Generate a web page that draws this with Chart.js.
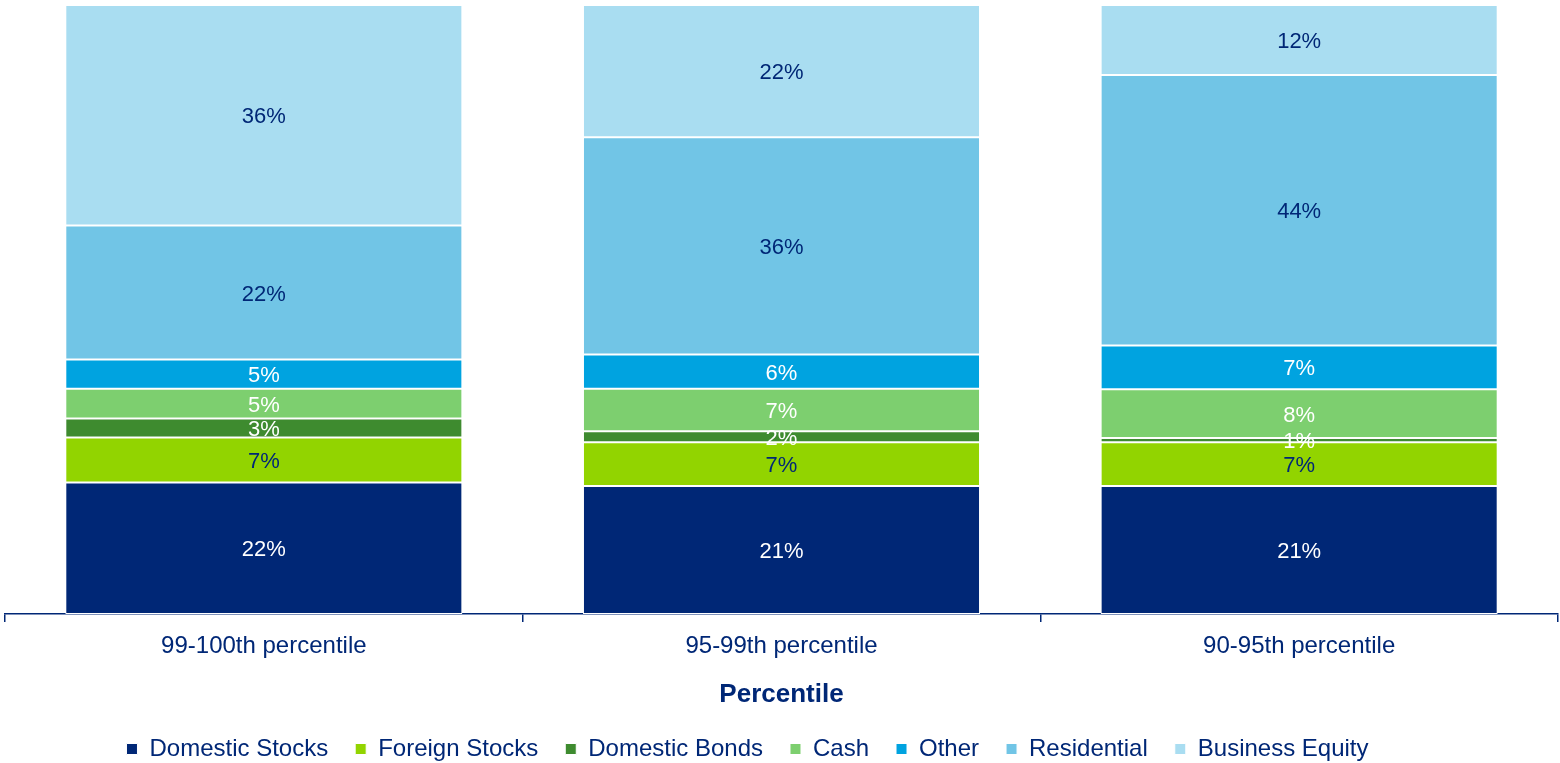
<!DOCTYPE html>
<html>
<head>
<meta charset="utf-8">
<script src="https://cdn.jsdelivr.net/npm/chart.js@4/dist/chart.umd.min.js"></script>
<style>
  html, body { margin: 0; padding: 0; background: #fff; }
  #wrap { width: 1560px; height: 763px; }
</style>
</head>
<body>
<div id="wrap"><canvas id="barChart"></canvas></div>
<script>
// categories and series (share of portfolio, %)
const percentiles = ["99-100th percentile", "95-99th percentile", "90-95th percentile"];
const domesticStocks = [21.6, 21.0, 21.0];
const foreignStocks = [7.4, 7.2, 7.2];
const domesticBonds = [3.1, 1.8, 0.7];
const cash = [4.9, 7.0, 8.0];
const other = [4.8, 5.6, 7.2];
const residential = [22.0, 35.7, 44.4];
const businessEquity = [36.2, 21.7, 11.5];

const navy = "#002776";
const font = "'Liberation Sans', Arial, sans-serif";

// value labels in the middle of each segment
const segmentLabels = {
  id: "segmentLabels",
  afterDatasetsDraw(chart) {
    const ctx = chart.ctx;
    ctx.save();
    ctx.font = "22px " + font;
    ctx.textAlign = "center";
    ctx.textBaseline = "middle";
    chart.data.datasets.forEach((ds, i) => {
      const meta = chart.getDatasetMeta(i);
      meta.data.forEach((bar, j) => {
        ctx.fillStyle = ds.labelColor;
        ctx.fillText(Math.round(ds.data[j]) + "%", bar.x, (bar.y + bar.base) / 2 + 2);
      });
    });
    ctx.restore();
  }
};

// legend sits a bit lower and left of centre in the original
const legendNudge = {
  id: "legendNudge",
  beforeInit(chart) {
    const fit = chart.legend.fit;
    chart.legend.fit = function () {
      fit.call(this);
      this.height -= 8;
    };
  },
  afterLayout(chart) {
    chart.legend.left -= 34;
    chart.legend.right -= 34;
  }
};

function series(label, data, color, labelColor) {
  return {
    label: label,
    data: data,
    backgroundColor: color,
    borderColor: "#ffffff",
    borderWidth: 1,
    borderSkipped: false,
    labelColor: labelColor,
    barPercentage: 0.767,
    categoryPercentage: 1
  };
}

new Chart(document.getElementById("barChart"), {
  type: "bar",
  data: {
    labels: percentiles,
    datasets: [
      series("Domestic Stocks", domesticStocks, navy, "#ffffff"),
      series("Foreign Stocks", foreignStocks, "#92D400", navy),
      series("Domestic Bonds", domesticBonds, "#3E8B2F", "#ffffff"),
      series("Cash", cash, "#7DCF6F", "#ffffff"),
      series("Other", other, "#00A3E0", "#ffffff"),
      series("Residential", residential, "#71C5E6", navy),
      series("Business Equity", businessEquity, "#A9DDF1", navy)
    ]
  },
  options: {
    responsive: true,
    maintainAspectRatio: false,
    animation: false,
    layout: { padding: { left: 5, right: 2, top: 5, bottom: 0 } },
    scales: {
      x: {
        stacked: true,
        grid: { offset: true, drawOnChartArea: false, tickLength: 8, color: navy, lineWidth: 1.5 },
        border: { color: navy, width: 1.5 },
        ticks: { color: navy, padding: 10, font: { family: font, size: 24 } },
        title: {
          display: true,
          text: "Percentile",
          color: navy,
          padding: { top: 8, bottom: 0 },
          font: { family: font, size: 26, weight: "bold" }
        }
      },
      y: { stacked: true, display: false, min: 0, max: 100 }
    },
    plugins: {
      legend: {
        position: "bottom",
        labels: {
          boxWidth: 11,
          boxHeight: 11,
          padding: 27,
          color: navy,
          font: { family: font, size: 24 }
        }
      },
      tooltip: { enabled: false }
    }
  },
  plugins: [segmentLabels, legendNudge]
});
</script>
</body>
</html>
